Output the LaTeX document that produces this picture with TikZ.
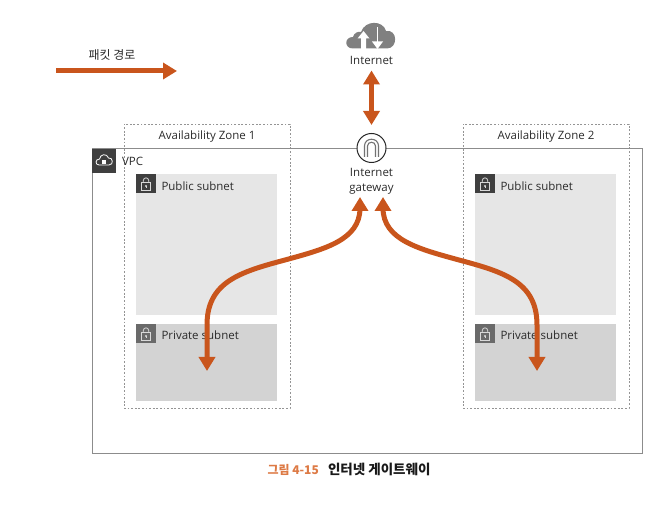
\documentclass[tikz,border=0pt]{standalone}
\usepackage{fontspec}
\setmainfont{Open Sans}
\newfontfamily\kr{Noto Sans CJK KR}
\usetikzlibrary{arrows.meta}
\definecolor{rust}{HTML}{C9551C}
\definecolor{capcol}{HTML}{DD7A45}
\definecolor{pubfill}{HTML}{E6E6E6}
\definecolor{privfill}{HTML}{D3D3D3}
\definecolor{darkicon}{HTML}{3F3F3F}
\definecolor{midicon}{HTML}{6A6A6A}
\definecolor{txt}{HTML}{2B2B2B}
\tikzset{
  every node/.style={inner sep=0pt,outer sep=0pt,text=txt,font=\fontsize{11.5}{14}\selectfont},
  zone/.style={draw=black!42,dash pattern=on 1.8pt off 1.8pt,line width=0.9pt,fill=none},
  pubnet/.style={fill=pubfill},
  privnet/.style={fill=privfill},
  label/.style={anchor=west},
  flow/.style={draw=rust,line width=5pt,-{Triangle[length=14pt,width=16pt]}},
  flowboth/.style={draw=rust,line width=5pt,{Triangle[length=14pt,width=16pt]}-{Triangle[length=14pt,width=16pt]}},
}
\newcommand{\lockicon}[3]{%
  \fill[#3] (#1,#2) rectangle ++(20,19);
  \draw[white!85!black,line width=0.8pt] (#1+5.5,#2+8.5) rectangle ++(9,8);
  \draw[white!85!black,line width=0.8pt] (#1+7.3,#2+8.5) -- ++(0,-2) .. controls +(0,-3.5) and +(0,-3.5) .. ++(5.4,0) -- ++(0,2);
  \fill[white!85!black] (#1+10,#2+12) circle (1.2);
  \fill[white!85!black] (#1+9.5,#2+12) rectangle ++(1,2.5);
}
\begin{document}
\begin{tikzpicture}[x=1pt,y=-1pt]
\useasboundingbox (0,0) rectangle (664,510);
% zones
\node[zone,minimum width=166pt,minimum height=284pt,anchor=north west] (az1) at (124,124) {};
\node[zone,minimum width=166pt,minimum height=284pt,anchor=north west] (az2) at (463,124) {};
\node at (207,137) {Availability Zone 1};
\node at (546,137) {Availability Zone 2};
% VPC
\draw[draw=black!45,line width=1pt] (92,149) rectangle (642,453);
\fill[darkicon] (92,149) rectangle (116,173);
\draw[white,line width=0.8pt,line join=round] (99,165) .. controls (95,165) and (95,159) .. (99.5,159) .. controls (100,154) and (107,153) .. (108.5,158) .. controls (113,157) and (114,165) .. (109,165) -- cycle;
\fill[white] (102,160.5) rectangle (106,164);
\node[label] at (122,161) {VPC};
% subnets
\node[pubnet,minimum width=141pt,minimum height=141pt,anchor=north west] (pub1) at (136,174) {};
\node[privnet,minimum width=141pt,minimum height=77pt,anchor=north west] (priv1) at (136,324) {};
\node[pubnet,minimum width=141pt,minimum height=141pt,anchor=north west] (pub2) at (475,174) {};
\node[privnet,minimum width=141pt,minimum height=77pt,anchor=north west] (priv2) at (475,324) {};
\lockicon{136}{174}{darkicon}
\lockicon{475}{174}{darkicon}
\lockicon{136}{324}{midicon}
\lockicon{475}{324}{midicon}
\node[label] at (161.5,186) {Public subnet};
\node[label] at (500.5,186) {Public subnet};
\node[label] at (161.5,335) {Private subnet};
\node[label] at (500.5,335) {Private subnet};
% internet gateway
\node[circle,draw=black!85,line width=1pt,fill=white,minimum size=29pt] (igw) at (371.5,148) {};
\draw[black!55,line width=1.1pt,line join=round] (364.5,157) -- (364.5,146) .. controls (364.5,137) and (378.5,137) .. (378.5,146) -- (378.5,157);
\draw[black!55,line width=1.1pt,line join=round] (367.5,157) -- (367.5,146) .. controls (367.5,141) and (375.5,141) .. (375.5,146) -- (375.5,157);
\node[align=center,font=\fontsize{11.5}{15}\selectfont] (igwlabel) at (371.5,181.5) {Internet\\gateway};
% cloud
\fill[black!50] (353,48.5) .. controls (344,48.5) and (344,37) .. (353,37) .. controls (354,33) and (358,31) .. (361,32) .. controls (365,20) and (383,20) .. (386,31) .. controls (398,29) and (398,48.5) .. (387,48.5) -- cycle;
\fill[white] (363.5,31) -- (369.5,38.5) -- (366,38.5) -- (366,49) -- (361,49) -- (361,38.5) -- (357.5,38.5) -- cycle;
\draw[white,line width=0.9pt] (377.5,27) -- (377.5,43);
\fill[white] (372,41.5) -- (383,41.5) -- (377.5,49) -- cycle;
\node (internet) at (371.5,60.5) {Internet};
% legend
\node[font=\kr\fontsize{12}{14}\selectfont] (legend) at (112,55) {패킷 경로};
\coordinate (lstart) at (56,71);
\coordinate (lend) at (177,71);
\draw[flow] (lstart) -- (lend);
% connectors
\coordinate (netbot) at (371.5,70.5);
\coordinate (gwtop) at (371.5,125);
\draw[flowboth] (netbot) -- (gwtop);
\coordinate (leftgw) at (360,197);
\coordinate (rightgw) at (383,197);
\coordinate (leftpriv) at (207,371);
\coordinate (rightpriv) at (537,371);
\draw[flowboth] (leftgw) -- (360,208) .. controls (360,240) and (325,249) .. (285,260) .. controls (240,272) and (207,282) .. (207,325) -- (leftpriv);
\draw[flowboth] (rightgw) -- (383,208) .. controls (383,240) and (419,249) .. (459,260) .. controls (504,272) and (537,282) .. (537,325) -- (rightpriv);
% caption
\node[anchor=west,font=\kr\bfseries\fontsize{12}{14}\selectfont,text=capcol] (capnum) at (267.5,469.5) {그림 4-15};
\node[anchor=west,font=\kr\bfseries\fontsize{13.5}{15}\selectfont,text=black!90] (captitle) at (328,469.5) {인터넷 게이트웨이};
\end{tikzpicture}
\end{document}
